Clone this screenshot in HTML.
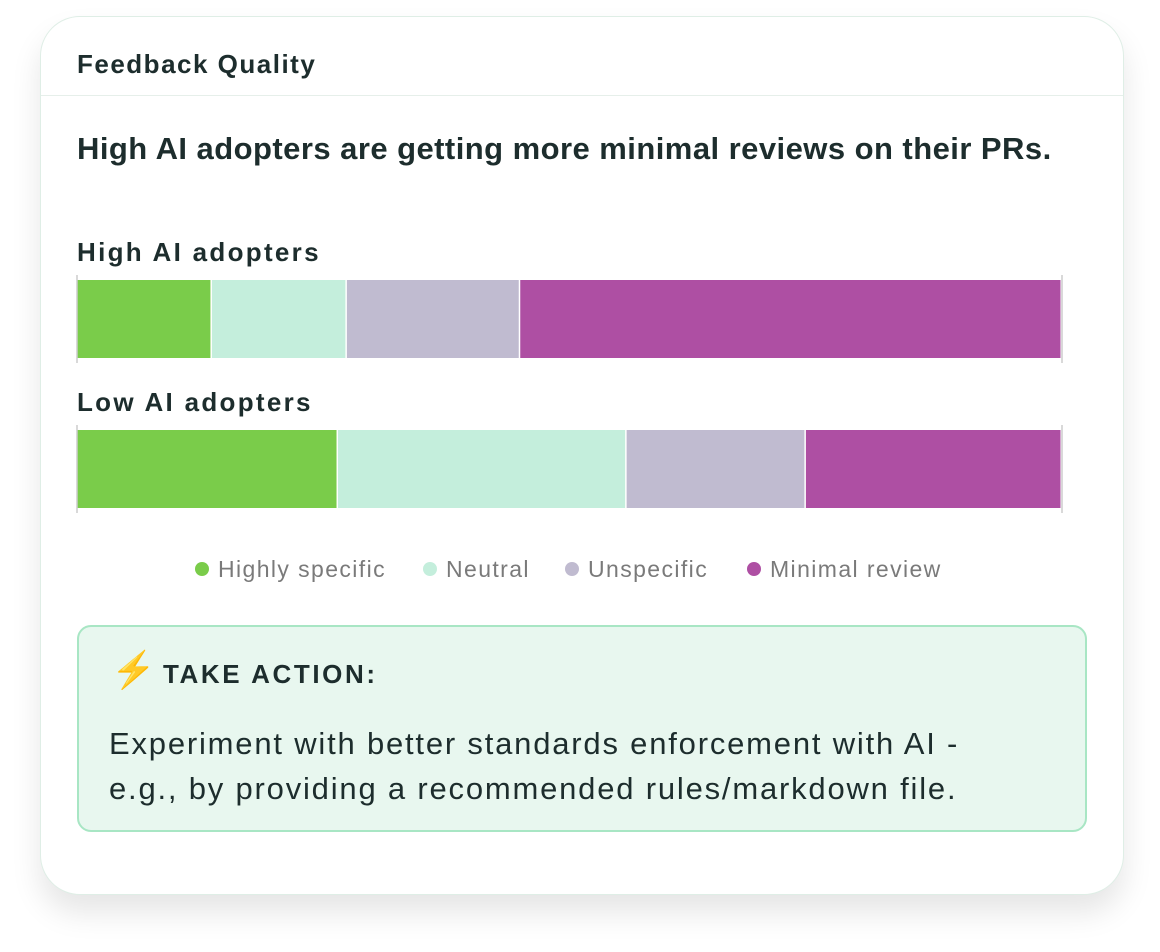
<!DOCTYPE html>
<html><head><meta charset="utf-8"><style>
body{margin:0;width:1160px;height:952px;background:#fff;font-family:"Liberation Sans",sans-serif;position:relative;overflow:hidden}
.card{position:absolute;left:40px;top:16px;width:1082px;height:877px;border:1px solid #dfeee6;border-radius:40px;background:#fff;box-shadow:0 18px 30px rgba(0,0,0,0.10)}
.abs{position:absolute}
.t{color:#1d2d2d}
</style></head><body>
<div class="card">
  <div class="abs t" style="left:36px;top:32px;font-size:26px;font-weight:600;letter-spacing:1.5px">Feedback Quality</div>
  <div class="abs" style="left:0;top:78px;width:1082px;height:1px;background:#e6efea"></div>
  <div class="abs t" style="left:36px;top:114px;font-size:31px;font-weight:600;letter-spacing:0.45px">High AI adopters are getting more minimal reviews on their PRs.</div>
</div>
<svg id="chart" class="abs" style="left:0;top:0" width="1160" height="600"></svg>
<div class="abs" style="left:77px;top:625px;width:1006px;height:203px;background:#e8f7ef;border:2px solid #a8e6c4;border-radius:14px">
  <div class="abs" style="left:32px;top:22px;font-size:36px;color:#f5b400">⚡</div>
  <div class="abs t" style="left:84px;top:32px;font-size:26px;font-weight:700;letter-spacing:2.6px">TAKE ACTION:</div>
  <div class="abs t" style="left:30px;top:94px;font-size:31px;line-height:45px;letter-spacing:1.8px">Experiment with better standards enforcement with AI -<br>e.g., by providing a recommended rules/markdown file.</div>
</div>
<script>
const groups=["High AI adopters","Low AI adopters"];
const categories=["Highly specific","Neutral","Unspecific","Minimal review"];
const highValues=[13.7,13.7,17.6,55.0];
const lowValues=[26.5,29.3,18.2,26.0];
const colors=["#7acc4a","#c4eedc","#c0bbd0","#ae4fa3"];
const series=[highValues,lowValues];
const NS="http://www.w3.org/2000/svg";
const svg=document.getElementById('chart');
const x0=77,x1=1062;
const xs=v=>x0+(x1-x0)*v/100;
function mk(tag,attrs,parent){const e=document.createElementNS(NS,tag);for(const k in attrs)e.setAttribute(k,attrs[k]);(parent||svg).appendChild(e);return e;}
groups.forEach((g,gi)=>{
  const yTop=280+gi*150;
  const lab=mk('text',{x:77,y:yTop-19,'font-size':26,'font-weight':700,fill:'#1d2d2d','letter-spacing':2.3,'font-family':'Liberation Sans, sans-serif'});
  lab.textContent=g;
  
  
  const total=series[gi].reduce((a,b)=>a+b,0);
  let acc=0;
  series[gi].forEach((v,i)=>{
    const a=acc/total*100,b=(acc+v)/total*100;acc+=v;
    const r=mk('rect',{x:xs(a),y:yTop,width:xs(b)-xs(a)-1.5,height:78,fill:colors[i]});
    
    
  });
  [x0,x1].forEach(x=>{const l=mk('line',{x1:x,x2:x,y1:yTop-5,y2:yTop+83,stroke:'#ccc','stroke-width':1.5});
    
    });
});
const legX=[202,430,572,754];
categories.forEach((c,i)=>{
  const gEl=mk('g',{});
  
  
  mk('circle',{cx:legX[i],cy:569,r:7,fill:colors[i]},gEl);
  const t=mk('text',{x:legX[i]+16,y:577,'font-size':23,fill:'#7a7a7a','letter-spacing':1.4,'font-family':'Liberation Sans, sans-serif'},gEl);
  t.textContent=c;
});
</script>
</body></html>
